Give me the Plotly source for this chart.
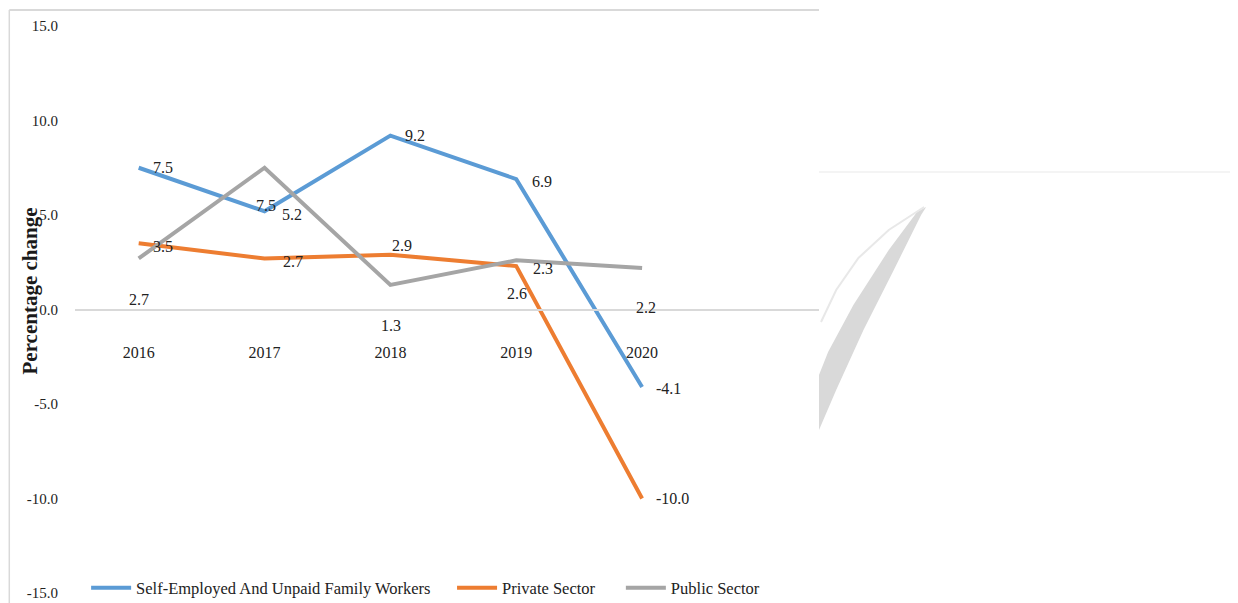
import plotly.graph_objects as go

# ---------------- data ----------------
years = ["2016", "2017", "2018", "2019", "2020"]
self_employed = [7.5, 5.2, 9.2, 6.9, -4.1]
private_sector = [3.5, 2.7, 2.9, 2.3, -10.0]
public_sector = [2.7, 7.5, 1.3, 2.6, 2.2]
series_names = ["Self-Employed And Unpaid Family Workers", "Private Sector", "Public Sector"]
y_ticks = [15.0, 10.0, 5.0, 0.0, -5.0, -10.0, -15.0]
y_title = "Percentage change"

# ---------------- style ----------------
OFF = 8                      # browser default body margin
SW, SH = 1238, 603           # screen size
L, R, T, B = 75, SW - 811, 26, 10   # plot area in screen pixels
W, H = SW - OFF, SH - OFF
PW, PH = SW - L - R, SH - T - B
colors = ["#5B9BD5", "#ED7D31", "#A5A5A5"]
SERIF = "Liberation Serif, Times New Roman, serif"

def px_x(px):
    return (px - L) / PW

def px_y(py):
    return (SH - B - py) / PH

# x range so that first category sits at px 138, spacing 124.5 px
spacing = 124.5
r0 = -(138 - L) / spacing
r1 = r0 + PW / spacing

fig = go.Figure()
all_series = [self_employed, private_sector, public_sector]
legend_ids = ["legend", "legend2", "legend3"]
for vals, name, col, lg in zip(all_series, series_names, colors, legend_ids):
    fig.add_trace(go.Scatter(
        x=list(range(len(years))), y=vals, mode="lines", name=name,
        line=dict(color=col, width=4), legend=lg, showlegend=True,
        hoverinfo="skip"))

# data label offsets (style): (xanchor, xshift, yshift)
label_style = [
    [("left", 12, 0), ("left", 15, -3), ("left", 13, 0), ("left", 14, -2), ("left", 12, -2)],
    [("left", 12, -3), ("left", 16, -3), ("center", 12, 9), ("left", 15, -2), ("left", 12, 0)],
    [("center", 0, -41), ("center", 1, -38), ("center", 1, -41), ("center", 1, -33), ("center", 4, -40)],
]
for vals, styles in zip(all_series, label_style):
    for i, (v, (xa, xs, ys)) in enumerate(zip(vals, styles)):
        fig.add_annotation(x=i, y=v, xref="x", yref="y", text=f"{v:.1f}",
                           showarrow=False, xanchor=xa, yanchor="middle",
                           xshift=xs, yshift=ys,
                           font=dict(family=SERIF, size=16, color="#222222"))

# y-axis title
fig.add_annotation(x=px_x(30), y=px_y(291), xref="paper", yref="paper",
                   xanchor="center", yanchor="middle",
                   text=f"<b>{y_title}</b>", textangle=-90, showarrow=False,
                   font=dict(family=SERIF, size=21, color="#1a1a1a"))

# chart border (left + top)
fig.add_shape(type="line", xref="paper", yref="paper",
              x0=px_x(10), x1=px_x(10), y0=px_y(10), y1=px_y(610),
              line=dict(color="#d9d9d9", width=1.5))
fig.add_shape(type="line", xref="paper", yref="paper",
              x0=px_x(10), x1=px_x(811), y0=px_y(10), y1=px_y(10),
              line=dict(color="#d9d9d9", width=2))
# faint artifacts on the right
fig.add_shape(type="line", xref="paper", yref="paper",
              x0=px_x(811), x1=px_x(1238), y0=px_y(172), y1=px_y(172),
              line=dict(color="#f0f0f0", width=1.5))
leaf = [(811, 430), (828, 390), (855, 330), (885, 270), (912, 215),
        (917, 207), (908, 212), (880, 250), (845, 305), (820, 352), (811, 375)]
path = "M " + " L ".join(f"{px_x(a):.5f},{px_y(b):.5f}" for a, b in leaf) + " Z"
fig.add_shape(type="path", xref="paper", yref="paper", path=path,
              fillcolor="#d9d9d9", line=dict(width=0))
arc = [(813, 322), (828, 290), (850, 258), (880, 230), (915, 207)]
arc_path = "M " + " L ".join(f"{px_x(a):.5f},{px_y(b):.5f}" for a, b in arc)
fig.add_shape(type="path", xref="paper", yref="paper", path=arc_path,
              line=dict(color="#e8e8e8", width=2))

legend_common = dict(orientation="h", yanchor="middle", xanchor="left",
                     bgcolor="rgba(0,0,0,0)", borderwidth=0, itemwidth=40,
                     font=dict(family=SERIF, size=16.5, color="#222222"))
fig.update_layout(
    width=W, height=H, showlegend=True,
    margin=dict(l=L - OFF, r=R - OFF, t=T - OFF, b=B, autoexpand=False),
    paper_bgcolor="white", plot_bgcolor="white",
    legend=dict(x=px_x(86), y=px_y(588), **legend_common),
    legend2=dict(x=px_x(448), y=px_y(588), **legend_common),
    legend3=dict(x=px_x(615), y=px_y(588), **legend_common),
    xaxis=dict(
        range=[r0, r1], tickmode="array", tickvals=list(range(len(years))),
        ticktext=years, showgrid=False, zeroline=False,
        showline=True, linecolor="#d9d9d9", linewidth=1.5,
        anchor="free", position=0.5, ticks="", ticklabelstandoff=29,
        tickfont=dict(family=SERIF, size=16, color="#222222"),
    ),
    yaxis=dict(
        range=[-15, 15], tickmode="array", tickvals=y_ticks,
        ticktext=[f"{v:.1f}" for v in y_ticks], showgrid=False,
        zeroline=False, showline=False, ticks="", ticklabelstandoff=16,
        tickfont=dict(family=SERIF, size=15, color="#222222"),
    ),
)

fig.write_html("out.html")
